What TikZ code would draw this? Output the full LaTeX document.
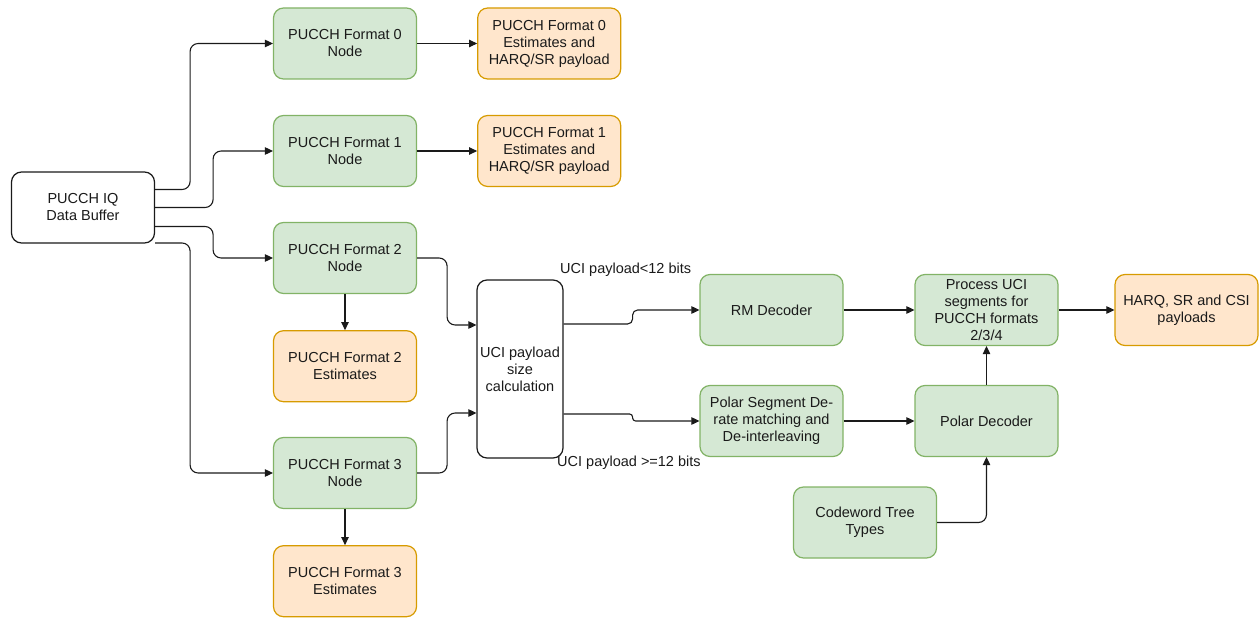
\documentclass[tikz,border=0pt]{standalone}
\usepackage{fontspec}
\setmainfont{Liberation Sans}
\usepackage{xcolor}
\usetikzlibrary{arrows.meta, positioning}

\definecolor{grnfill}{HTML}{D5E8D4}
\definecolor{grnline}{HTML}{82B366}
\definecolor{orgfill}{HTML}{FFE6CC}
\definecolor{orgline}{HTML}{D79B00}
\definecolor{ink}{HTML}{1A1A1A}

\begin{document}
\begin{tikzpicture}[
    x=1pt, y=-1pt,
    box/.style={rectangle, rounded corners=10pt, line width=1.2pt,
                minimum width=143pt, minimum height=71pt, align=center,
                inner sep=2pt, text=ink, font=\fontsize{14.5}{17}\selectfont},
    proc/.style={box, draw=grnline, fill=grnfill},
    outp/.style={box, draw=orgline, fill=orgfill},
    plain/.style={box, draw=ink, fill=white},
    lbl/.style={text=ink, font=\fontsize{14.5}{17}\selectfont, inner sep=1pt},
    link/.style={-{Triangle[length=8pt, width=7.5pt]}, line width=1.1pt,
                 draw=ink, rounded corners=8pt}
  ]
  \useasboundingbox (0,0) rectangle (1259,618);

  % input buffer
  \node[plain] (buf) at (83,207.5) {PUCCH IQ\\Data Buffer};

  % format nodes
  \node[proc] (f0) at (345,43.5) {PUCCH Format 0\\Node};
  \node[proc] (f1) at (345,151) {PUCCH Format 1\\Node};
  \node[proc] (f2) at (345,258) {PUCCH Format 2\\Node};
  \node[proc] (f3) at (345,473) {PUCCH Format 3\\Node};

  % estimates
  \node[outp, right=60pt of f0] (e0) {PUCCH Format 0\\Estimates and\\HARQ/SR payload};
  \node[outp, right=60pt of f1] (e1) {PUCCH Format 1\\Estimates and\\HARQ/SR payload};
  \node[outp, below=36pt of f2] (e2) {PUCCH Format 2\\Estimates};
  \node[outp, below=36pt of f3] (e3) {PUCCH Format 3\\Estimates};

  % UCI decoding chain
  \node[plain, minimum width=86pt, minimum height=178pt] (uci) at (520,369)
    {UCI payload\\size\\calculation};
  \node[proc] (rm) at (771.5,310) {RM Decoder};
  \node[proc] (pseg) at (771.5,421) {Polar Segment De-\\rate matching and\\De-interleaving};
  \node[proc] (pdec) at (986.5,421) {Polar Decoder};
  \node[proc] (puci) at (986.5,310) {Process UCI\\segments for\\PUCCH formats\\2/3/4};
  \node[outp] (harq) at (1186.5,310) {HARQ, SR and CSI\\payloads};
  \node[proc] (cw) at (865,522.5) {Codeword Tree\\Types};

  % branch labels
  \node[lbl, anchor=west] (lsmall) at (559,270) {UCI payload<12 bits};
  \node[lbl, anchor=west] (llarge) at (556,463) {UCI payload >=12 bits};

  % buffer fan-out
  \draw[link] ([yshift=18pt]buf.east) -- ++(35,0) |- (f0);
  \draw[link] (buf.east) -- ++(58,0) |- (f1);
  \draw[link] ([yshift=-19pt]buf.east) -- ++(58,0) |- (f2);
  \draw[link] ([yshift=-35.5pt]buf.east) -- ++(35,0) |- (f3);

  % format outputs
  \draw[link] (f0) -- (e0);
  \draw[link] (f1) -- (e1);
  \draw[link] (f2) -- (e2);
  \draw[link] (f3) -- (e3);

  % into the size check
  \draw[link] (f2.east) -- ++(30,0) |- ([yshift=44pt]uci.west);
  \draw[link] (f3.east) -- ++(30,0) |- ([yshift=-44pt]uci.west);

  % decoder paths
  \draw[link, rounded corners=5pt] ([yshift=45pt]uci.east) -- ++(69,0) |- (rm);
  \draw[link, rounded corners=3pt] ([yshift=-45pt]uci.east) -- ++(69,0) |- (pseg);
  \draw[link] (rm) -- (puci);
  \draw[link] (pseg) -- (pdec);
  \draw[link] (pdec) -- (puci);
  \draw[link] (cw.east) -| (pdec.south);
  \draw[link] (puci) -- (harq);
\end{tikzpicture}
\end{document}
